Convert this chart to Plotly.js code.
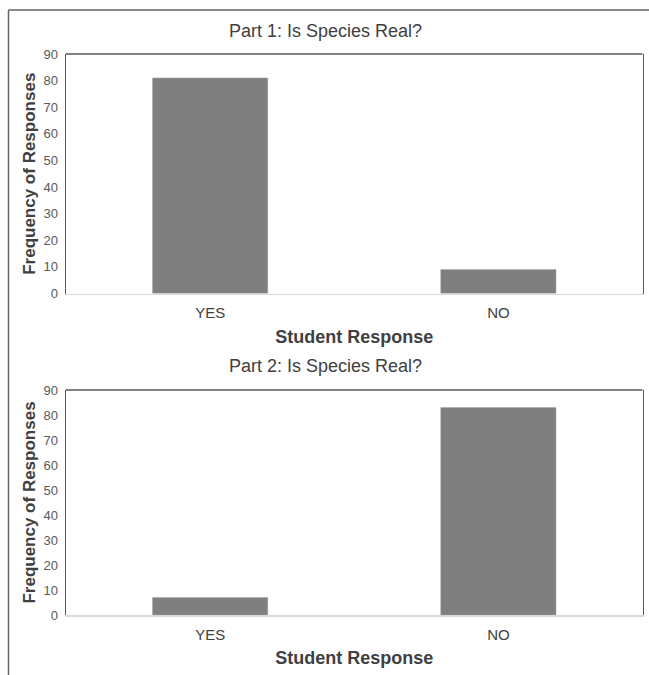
<!DOCTYPE html>
<html>
<head>
<meta charset="utf-8">
<script src="https://cdn.plot.ly/plotly-3.0.1.min.js"></script>
<style>html,body{margin:0;padding:0;background:#fff;}#chart{width:649px;height:675px;}</style>
</head>
<body>
<div id="chart"></div>
<script>
const categories = ["YES", "NO"];
const part1Values = [81, 9];
const part2Values = [7, 83];
const yTickValues = [0, 10, 20, 30, 40, 50, 60, 70, 80, 90];
const titles = ["Part 1: Is Species Real?", "Part 2: Is Species Real?"];
const xTitle = "Student Response";
const yTitle = "Frequency of Responses";

const barColor = "#7f7f7f";
const FONT = "Liberation Sans, Arial, sans-serif";

const traces = [
  {type: "bar", x: categories, y: part1Values, xaxis: "x", yaxis: "y",
   marker: {color: barColor, line: {color: "#a6a6a6", width: 0.5}}, width: 0.4, hoverinfo: "x+y"},
  {type: "bar", x: categories, y: part2Values, xaxis: "x2", yaxis: "y2",
   marker: {color: barColor, line: {color: "#a6a6a6", width: 0.5}}, width: 0.4, hoverinfo: "x+y"}
];

const xDom = [66/649, 642.5/649];
const y1Dom = [1 - 293.5/675, 1 - 54/675];
const y2Dom = [1 - 615/675, 1 - 390/675];

function xAxis(anchor) {
  return {
    domain: xDom, anchor: anchor, showline: true, linecolor: "#d9d9d9", linewidth: 1.5,
    ticks: "", showgrid: false, zeroline: false, fixedrange: true,
    ticklabelstandoff: 5,
    tickfont: {family: FONT, size: 15, color: "#404040"},
    title: {text: "<b>" + xTitle + "</b>", font: {family: FONT, size: 18, color: "#404040"}, standoff: 10},
    automargin: false
  };
}
function yAxis(anchor, dom) {
  return {
    domain: dom, anchor: anchor, range: [0, 90], tickvals: yTickValues,
    showline: true, mirror: true, linecolor: "#595959", linewidth: 1.5,
    ticks: "", showgrid: false, zeroline: false, fixedrange: true,
    ticklabelstandoff: 4,
    tickfont: {family: FONT, size: 13, color: "#595959"},
    title: {text: "<b>" + yTitle + "</b>", font: {family: FONT, size: 17, color: "#404040"}, standoff: 3},
    automargin: false
  };
}

const layout = {
  width: 649, height: 675,
  margin: {l: 0, r: 0, t: 0, b: 0},
  paper_bgcolor: "#ffffff", plot_bgcolor: "#ffffff",
  showlegend: false,
  bargap: 0.6,
  font: {family: FONT, color: "#404040"},
  xaxis: xAxis("y"),
  yaxis: yAxis("x", y1Dom),
  xaxis2: xAxis("y2"),
  yaxis2: yAxis("x2", y2Dom),
  annotations: [
    {text: titles[0], xref: "paper", yref: "paper", x: 325/649, y: 1 - 31/675, xanchor: "center", yanchor: "middle",
     showarrow: false, font: {family: FONT, size: 18, color: "#404040"}},
    {text: titles[1], xref: "paper", yref: "paper", x: 325/649, y: 1 - 366/675, xanchor: "center", yanchor: "middle",
     showarrow: false, font: {family: FONT, size: 18, color: "#404040"}}
  ],
  shapes: [
    {type: "line", xref: "paper", yref: "paper", x0: xDom[0], x1: xDom[1], y0: y1Dom[1], y1: y1Dom[1], line: {color: "#595959", width: 1.5}},
    {type: "line", xref: "paper", yref: "paper", x0: xDom[0], x1: xDom[1], y0: y2Dom[1], y1: y2Dom[1], line: {color: "#595959", width: 1.5}},
    {type: "line", xref: "paper", yref: "paper", x0: 8.5/649, x1: 1, y0: 1 - 10/675, y1: 1 - 10/675, line: {color: "#666666", width: 1.5}},
    {type: "line", xref: "paper", yref: "paper", x0: 8.5/649, x1: 8.5/649, y0: 0, y1: 1 - 10/675, line: {color: "#666666", width: 1.5}}
  ]
};

Plotly.newPlot("chart", traces, layout, {displayModeBar: false, staticPlot: true});
</script>
</body>
</html>
